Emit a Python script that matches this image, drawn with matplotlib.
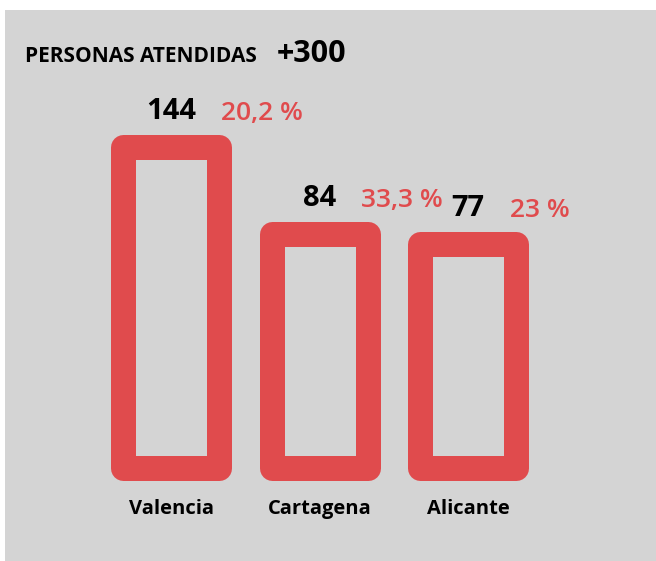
import matplotlib
matplotlib.use("Agg")
import matplotlib.pyplot as plt
from matplotlib.transforms import blended_transform_factory

# Data
cities = ["Valencia", "Cartagena", "Alicante"]
attended = [144, 84, 77]
share_labels = ["20,2 %", "33,3 %", "23 %"]
title_text = "PERSONAS ATENDIDAS"
total_text = "+300"

RED = "#e04b4d"
BG = "#d4d4d4"
FLOOR = -78  # visual baseline of the bars

plt.rcParams["font.family"] = ["Open Sans", "DejaVu Sans"]

fig = plt.figure(figsize=(6.56, 5.61), dpi=100, facecolor="white")
ax = fig.add_axes([5 / 656, 0, 651 / 656, 551 / 561])
ax.set_facecolor(BG)
ax.set_xlim(-1.123, 3.268)
ax.set_ylim(-141.8, 238.2)
for s in ax.spines.values():
    s.set_visible(False)
ax.set_xticks([])
ax.set_yticks([])

xs = list(range(len(cities)))
heights = [v - FLOOR for v in attended]
bars = ax.bar(xs, heights, bottom=FLOOR, width=0.6476,
              facecolor=BG, edgecolor=RED, linewidth=18)
for p in bars.patches:
    p.set_joinstyle("round")

for x, v, pct in zip(xs, attended, share_labels):
    num = ax.annotate(str(v), (x, v), xytext=(0, 19.8), textcoords="offset points",
                      ha="center", va="baseline", fontsize=21, fontweight="bold",
                      color="black")
    ax.annotate(pct, xy=(1, 0), xycoords=num, xytext=(18, 0),
                textcoords="offset points", ha="left", va="bottom",
                fontsize=19, fontweight="semibold", color=RED)

tr = blended_transform_factory(ax.transData, ax.transAxes)
for x, name in zip(xs, cities):
    ax.text(x, (561 - 514) / 551, name, transform=tr, ha="center", va="baseline",
            fontsize=14.5, fontweight="bold", color="black")

ax.text((25 - 5) / 651, (561 - 62) / 551, title_text, transform=ax.transAxes,
        ha="left", va="baseline", fontsize=15, fontweight="bold", color="black")
ax.text((277 - 5) / 651, (561 - 62) / 551, total_text, transform=ax.transAxes,
        ha="left", va="baseline", fontsize=22, fontweight="bold", color="black")

fig.savefig("out.png", dpi=100, facecolor="white")
